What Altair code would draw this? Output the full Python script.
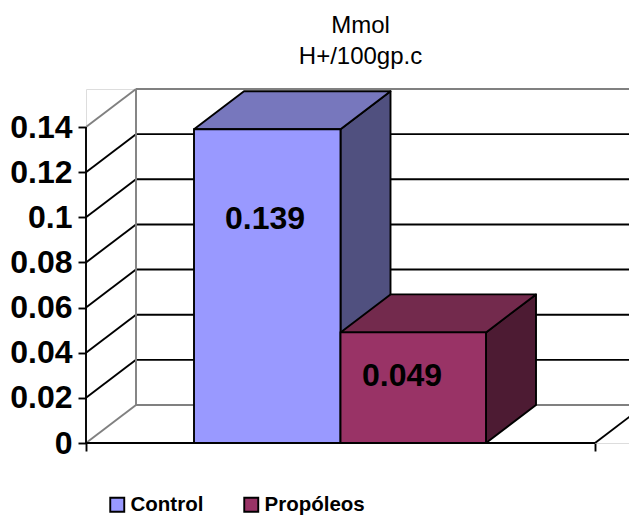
import altair as alt
import pandas as pd

series = ["Control", "Propóleos"]
values = [0.139, 0.049]
labels = ["0.139", "0.049"]
ticks = [0, 0.02, 0.04, 0.06, 0.08, 0.1, 0.12, 0.14]

front_colors = ["#9999FF", "#993366"]
top_colors = ["#7777BD", "#732A4D"]
side_colors = ["#50507F", "#4D1B33"]

# pseudo-3D geometry, in data units of the two scales
DX = 50 / 509
DY = 38 / (316 / 0.14)
X_MAX = 543 / 509
Y_MAX = 0.14 + DY
EDGES = [108 / 509, 254.5 / 509, 400 / 509]
LABEL_X = [179 / 509, 316 / 509]
LABEL_Y = [0.0991, 0.0296]

X = alt.Scale(domain=[0, X_MAX], nice=False, zero=False)
Y = alt.Scale(domain=[0, Y_MAX], nice=False, zero=False)
LW = 1.9


def px(f="x"):
    return alt.X(f"{f}:Q", scale=X, title=None,
                 axis=alt.Axis(values=[0, 1], labels=False, domain=False, grid=False,
                               ticks=True, tickSize=8, tickColor="black", tickWidth=LW, title=None))


def py(f="y"):
    return alt.Y(f"{f}:Q", scale=Y, title=None,
                 axis=alt.Axis(values=ticks, format="~g", domain=False, grid=False,
                               tickSize=8, tickColor="black", tickWidth=LW,
                               labelFont="Liberation Sans", labelFontSize=32, labelFontWeight="bold",
                               labelColor="black", labelPadding=6, title=None))


def rules(rows, color):
    d = pd.DataFrame(rows, columns=["x", "x2", "y", "y2"])
    return alt.Chart(d).mark_rule(color=color, strokeWidth=LW, clip=False).encode(
        x=px(), x2="x2:Q", y=py(), y2="y2:Q")


def face(corners, color):
    closed = corners + corners[:1]
    d = pd.DataFrame({"i": range(len(closed)), "x": [c[0] for c in closed], "y": [c[1] for c in closed]})
    return alt.Chart(d).mark_line(
        fill=color, stroke="black", strokeWidth=LW, strokeJoin="round"
    ).encode(x=px(), y=py(), order=alt.Order("i:Q"))


inner = [t for t in ticks if 0 < t < 0.14]
layers = []

# back wall gridlines and side wall diagonals
layers.append(rules([[DX, X_MAX, t + DY, t + DY] for t in inner], "black"))
layers.append(rules([[0, DX, t, t + DY] for t in inner], "black"))
layers.append(rules([[DX, X_MAX, Y_MAX, Y_MAX], [DX, X_MAX, DY, DY], [DX, DX, DY, Y_MAX],
                     [0, DX, 0.14, Y_MAX], [0, DX, 0, DY]], "#808080"))
# floor right edge
floor = pd.DataFrame({"x": [1, 1 + DX], "y": [0, DY]})
layers.append(alt.Chart(floor).mark_line(color="black", strokeWidth=LW, clip=True).encode(
    x=px(), y=py()))
# front axis lines
layers.append(rules([[0, 1, 0, 0], [0, 0, 0, 0.14]], "black"))

# top and side faces of each bar
for i, v in enumerate(values):
    l, r = EDGES[i], EDGES[i + 1]
    layers.append(face([(r, 0), (r + DX, DY), (r + DX, v + DY), (r, v)], side_colors[i]))
    layers.append(face([(l, v), (l + DX, v + DY), (r + DX, v + DY), (r, v)], top_colors[i]))

# front faces, which also carry the legend
fronts = pd.DataFrame({"series": series, "x": EDGES[:2], "x2": EDGES[1:], "y": values, "y2": [0, 0]})
layers.append(alt.Chart(fronts).mark_rect(stroke="black", strokeWidth=LW).encode(
    x=px(), x2="x2:Q", y=py(), y2="y2:Q",
    color=alt.Color("series:N", scale=alt.Scale(domain=series, range=front_colors), title=None,
                    legend=alt.Legend(orient="none", legendX=21, legendY=405, direction="horizontal",
                                      columns=2, symbolType="square", symbolSize=196,
                                      symbolStrokeColor="black", symbolStrokeWidth=LW,
                                      labelFont="Liberation Sans", labelFontSize=20.5, labelFontWeight="bold",
                                      labelColor="black", labelOffset=3, columnPadding=36,
                                      title=None))))

# value labels
text = pd.DataFrame({"x": LABEL_X, "y": LABEL_Y, "t": labels})
layers.append(alt.Chart(text).mark_text(
    font="Liberation Sans", fontSize=32, fontWeight="bold", color="black"
).encode(x=px(), y=py(), text="t:N"))

chart = alt.layer(*layers).properties(
    width=543,
    height=354,
    padding={"left": 78, "top": 81, "right": 0, "bottom": 74},
    autosize=alt.AutoSizeParams(type="none"),
    title=alt.TitleParams(["Mmol", "H+/100gp.c"], font="Liberation Sans", fontSize=24,
                          fontWeight="normal", color="black", lineHeight=31, anchor="middle",
                          frame="group", offset=19.5, dx=3),
).configure_view(stroke=None).configure(background="white")

chart.save("out.html", embed_options={"renderer": "svg", "actions": False})
